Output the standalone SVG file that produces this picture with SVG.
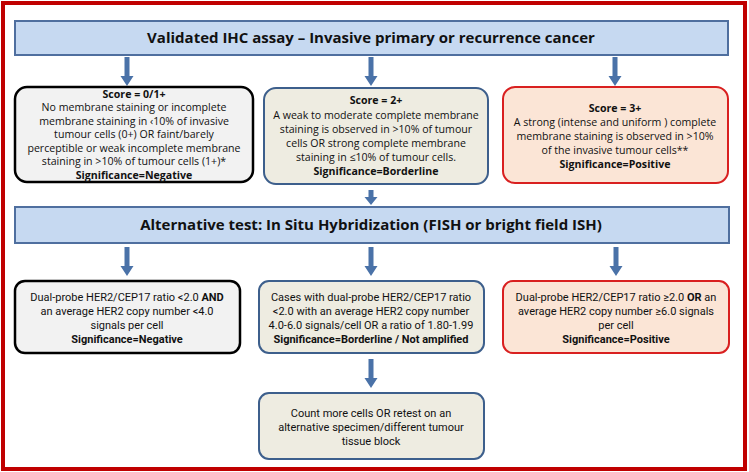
<svg xmlns="http://www.w3.org/2000/svg" width="749" height="472" viewBox="0 0 749 472">
<defs>
<style>
text{font-family:"Open Sans","Liberation Sans",sans-serif;font-size:10.6px;fill:#111;text-anchor:middle}
.b{font-weight:bold}
.h{font-size:15px;font-weight:bold}
.n{font-family:"Liberation Sans Narrow","Roboto","Liberation Sans",sans-serif;font-size:11px}
.hdr{fill:#c6d9f1;stroke:#4f6f9f;stroke-width:2}
.neg{fill:#f2f2f2;stroke:#000;stroke-width:2.5}
.bor{fill:#eeece1;stroke:#3d5f8c;stroke-width:2}
.pos{fill:#fbe5d6;stroke:#d92020;stroke-width:2}
.ar{fill:#4a72a8}
</style>
</defs>
<rect x="3" y="3" width="742" height="466" fill="#fff" stroke="#c00000" stroke-width="4"/>
<g id="connectors">
<path class="ar" d="M124.5,57 H129.5 V76 H133.5 L127,86 L120.5,76 H124.5 Z"/>
<path class="ar" d="M368.5,57 H373.5 V76 H377.5 L371,86 L364.5,76 H368.5 Z"/>
<path class="ar" d="M612.5,57 H617.5 V76 H621.5 L615,86 L608.5,76 H612.5 Z"/>
<path class="ar" d="M368.5,190 H373.5 V197 H377.5 L371,205 L364.5,197 H368.5 Z"/>
<path class="ar" d="M124.5,247 H129.5 V266 H133.5 L127,276 L120.5,266 H124.5 Z"/>
<path class="ar" d="M368.5,247 H373.5 V266 H377.5 L371,276 L364.5,266 H368.5 Z"/>
<path class="ar" d="M613.5,247 H618.5 V266 H622.5 L616,276 L609.5,266 H613.5 Z"/>
<path class="ar" d="M368.5,359 H373.5 V378 H377.5 L371,388 L364.5,378 H368.5 Z"/>
</g>
<g id="ihc">
<rect class="hdr" x="15" y="21" width="713" height="34"/>
<text class="h" x="371" y="43">Validated IHC assay – Invasive primary or recurrence cancer</text>
</g>
<g id="score01">
<rect class="neg" x="15" y="87" width="238" height="95" rx="12"/>
<text class="b" x="134" y="98">Score = 0/1+</text>
<text x="134" y="111">No membrane staining or incomplete</text>
<text x="134" y="124.5">membrane staining in ‹10% of invasive</text>
<text x="134" y="138">tumour cells (0+) OR faint/barely</text>
<text x="134" y="151.5">perceptible or weak incomplete membrane</text>
<text x="134" y="165">staining in &gt;10% of tumour cells (1+)*</text>
<text class="b" x="134" y="178.5">Significance=Negative</text>
</g>
<g id="score2">
<rect class="bor" x="264" y="88" width="224" height="96" rx="12"/>
<text class="b" x="376" y="104">Score  = 2+</text>
<text x="376" y="119">A weak to moderate complete membrane</text>
<text x="376" y="133">staining is observed in &gt;10% of tumour</text>
<text x="376" y="147">cells OR strong complete membrane</text>
<text x="376" y="161">staining in ≤10% of tumour cells.</text>
<text class="b" x="376" y="175">Significance=Borderline</text>
</g>
<g id="score3">
<rect class="pos" x="503" y="87" width="225" height="96" rx="12"/>
<text class="b" x="615" y="112">Score = 3+</text>
<text x="615" y="126">A strong (intense and uniform ) complete</text>
<text x="615" y="140">membrane staining is observed in &gt;10%</text>
<text x="615" y="154">of the invasive tumour cells**</text>
<text class="b" x="615" y="168">Significance=Positive</text>
</g>
<g id="ish">
<rect class="hdr" x="15" y="207" width="714" height="36"/>
<text class="h" x="371" y="230">Alternative test: In Situ Hybridization (FISH or bright field ISH)</text>
</g>
<g id="ishneg">
<rect class="neg" x="15" y="281" width="225" height="72" rx="10"/>
<text class="n" x="127" y="301">Dual-probe HER2/CEP17 ratio &lt;2.0 <tspan class="b">AND</tspan></text>
<text class="n" x="127" y="315">an average HER2 copy number &lt;4.0</text>
<text class="n" x="127" y="329">signals per cell</text>
<text class="n b" x="127" y="343">Significance=Negative</text>
</g>
<g id="ishbor">
<rect class="bor" x="259" y="281" width="225" height="72" rx="10"/>
<text class="n" x="371" y="301">Cases with dual-probe HER2/CEP17 ratio</text>
<text class="n" x="371" y="315">&lt;2.0 with an average HER2 copy number</text>
<text class="n" x="371" y="329">4.0-6.0 signals/cell  OR a ratio of 1.80-1.99</text>
<text class="n b" x="371" y="343">Significance=Borderline / Not amplified</text>
</g>
<g id="ishpos">
<rect class="pos" x="503" y="281" width="226" height="72" rx="10"/>
<text class="n" x="616" y="301">Dual-probe HER2/CEP17 ratio ≥2.0 <tspan class="b">OR</tspan> an</text>
<text class="n" x="616" y="315">average HER2 copy number ≥6.0 signals</text>
<text class="n" x="616" y="329">per cell</text>
<text class="n b" x="616" y="343">Significance=Positive</text>
</g>
<g id="retest">
<rect class="bor" x="259" y="393" width="225" height="66" rx="10"/>
<text class="n" x="371" y="417">Count more cells OR retest on an</text>
<text class="n" x="371" y="431">alternative specimen/different tumour</text>
<text class="n" x="371" y="445">tissue block</text>
</g>
</svg>
